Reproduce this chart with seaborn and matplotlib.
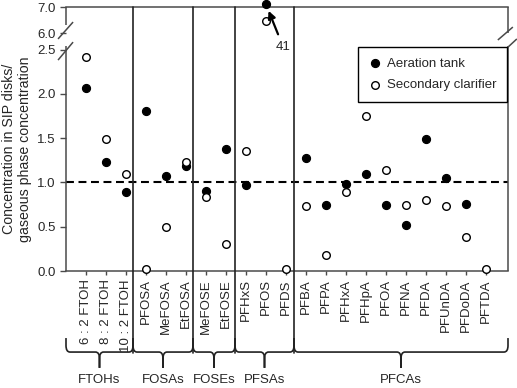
import numpy as np
import pandas as pd
import matplotlib
matplotlib.use("Agg")
import matplotlib.pyplot as plt
import matplotlib.transforms as mtransforms
from matplotlib.path import Path
from matplotlib.patches import PathPatch
import seaborn as sns

# ---------------- data ----------------
categories = ["6 : 2 FTOH", "8 : 2 FTOH", "10 : 2 FTOH",
              "PFOSA", "MeFOSA", "EtFOSA",
              "MeFOSE", "EtFOSE",
              "PFHxS", "PFOS", "PFDS",
              "PFBA", "PFPA", "PFHxA", "PFHpA", "PFOA", "PFNA", "PFDA",
              "PFUnDA", "PFDoDA", "PFTDA"]
aeration = [2.07, 1.23, 0.895,
            1.81, 1.075, 1.19,
            0.90, 1.38,
            0.975, 41.0, np.nan,
            1.28, 0.745, 0.985, 1.10, 0.745, 0.52, 1.49,
            1.045, 0.76, np.nan]
clarifier = [2.42, 1.49, 1.09,
             0.02, 0.50, 1.23,
             0.84, 0.30,
             1.35, 6.47, 0.02,
             0.73, 0.18, 0.895, 1.75, 1.14, 0.75, 0.80,
             0.73, 0.385, 0.02]
groups = ["FTOHs", "FOSAs", "FOSEs", "PFSAs", "PFCAs"]
ytick_values = [0.0, 0.5, 1.0, 1.5, 2.0, 2.5, 6.0, 7.0]
ytick_labels = ["0.0", "0.5", "1.0", "1.5", "2.0", "2.5", "6.0", "7.0"]
annot_value = "41"

# ---------------- layout ----------------
sns.set_style("ticks")
plt.rcParams["font.family"] = ["Liberation Sans", "DejaVu Sans"]
FS = 9.5
plt.rcParams["font.size"] = FS

fig = plt.figure(figsize=(5.17, 3.88), dpi=100)
ax = fig.add_axes([66/517, 1-271/388, 442/517, 264/388])

# broken y scale
K1 = 0.186/3.5
K2 = 0.294
def fwd(y):
    y = np.asarray(y, dtype=float)
    return np.where(y <= 2.5, y, np.where(y <= 6, 2.5 + (y-2.5)*K1, 2.686 + (y-6)*K2))
def inv(u):
    u = np.asarray(u, dtype=float)
    return np.where(u <= 2.5, u, np.where(u <= 2.686, 2.5 + (u-2.5)/K1, 6 + (u-2.686)/K2))
ax.set_yscale("function", functions=(fwd, inv))

xpos = np.arange(len(categories))
top_cap = 7.1
aer_plot = np.minimum(np.array(aeration, dtype=float), top_cap)
df = pd.DataFrame({"x": xpos, "aer": aer_plot, "cla": clarifier})

sns.scatterplot(data=df, x="x", y="aer", ax=ax, color="black", edgecolor="black",
                marker="o", s=34, linewidth=0.8, label="Aeration tank",
                clip_on=False, zorder=4)
sns.scatterplot(data=df, x="x", y="cla", ax=ax, color="white", edgecolor="black",
                marker="o", s=30, linewidth=1.0, label="Secondary clarifier",
                clip_on=False, zorder=4)

ax.axhline(1.0, color="black", lw=1.5, ls=(0, (3.8, 2.2)), zorder=2)

ax.set_xlim(-1, 21.1)
ax.set_ylim(0, 7.0)
ax.set_yticks(ytick_values)
ax.set_yticklabels(ytick_labels)
ax.set_xticks(xpos)
ax.set_xticklabels(categories, rotation=90, va="top", ha="center")
ax.set_xlabel("")
ax.set_ylabel("Concentration in SIP disks/\ngaseous phase concentration",
              fontsize=10.2, linespacing=1.15)
ax.yaxis.set_label_coords(-0.077, 0.462)

spine_c = "#4a4a4a"
for s in ["top", "bottom"]:
    ax.spines[s].set_color(spine_c)
    ax.spines[s].set_linewidth(1.1)
ax.spines["left"].set_visible(False)
ax.spines["right"].set_visible(False)
ax.tick_params(axis="y", direction="out", length=4.5, width=1.0, color=spine_c,
               pad=3, labelsize=FS)
ax.tick_params(axis="x", direction="out", length=3, width=1.0, color=spine_c,
               pad=3, labelsize=FS)

# broken spines (axes coords)
lk = dict(color=spine_c, lw=1.1, clip_on=False, transform=ax.transAxes,
          solid_capstyle="butt")
ax.plot([0, 0], [0, 0.852], **lk)
ax.plot([0, 0], [0.932, 1.0], **lk)
ax.plot([-0.018, 0.016], [0.879, 0.943], **lk)
ax.plot([-0.018, 0.016], [0.799, 0.867], **lk)
ax.plot([1, 1], [0, 0.852], **lk)
ax.plot([1, 1], [0.902, 1.0], **lk)
ax.plot([0.977, 1.011], [0.875, 0.924], **lk)
ax.plot([0.998, 1.02], [0.845, 0.879], **lk)

# group separators & braces
blend = mtransforms.blended_transform_factory(ax.transData, ax.transAxes)
sep_x = [2.35, 5.35, 7.45, 10.4]
edges = [-1.0] + sep_x + [21.1]
for sx in sep_x:
    ax.plot([sx, sx], [1.0, -0.31], color="#222222", lw=1.2, clip_on=False,
            transform=blend, zorder=3)

y_end, y_h, y_tip, y_lab = -0.254, -0.307, -0.367, -0.414
dx, dy = 0.2, 0.025
for g, x0, x1 in zip(groups, edges[:-1], edges[1:]):
    xc = (x0 + x1) / 2
    verts = [(x0, y_end), (x0, y_h + dy), (x0, y_h), (x0 + dx, y_h),
             (xc - dx, y_h), (xc, y_h), (xc, y_h - dy), (xc, y_tip),
             (xc, y_h - dy), (xc, y_h), (xc + dx, y_h),
             (x1 - dx, y_h), (x1, y_h), (x1, y_h + dy), (x1, y_end)]
    codes = [Path.MOVETO, Path.LINETO, Path.CURVE3, Path.CURVE3,
             Path.LINETO, Path.CURVE3, Path.CURVE3, Path.LINETO,
             Path.LINETO, Path.CURVE3, Path.CURVE3,
             Path.LINETO, Path.CURVE3, Path.CURVE3, Path.LINETO]
    ax.add_patch(PathPatch(Path(verts, codes), transform=blend, fill=False,
                           lw=1.2, edgecolor="#222222", clip_on=False))
    ax.text(xc, y_lab, g, transform=blend, ha="center", va="center", fontsize=FS)

# annotation for off-scale PFOS
ax.annotate(annot_value, xy=(categories.index("PFOS"), top_cap),
            xytext=(12.5, -31), textcoords="offset points",
            ha="center", va="center", fontsize=FS,
            arrowprops=dict(arrowstyle="-|>", color="black", lw=1.6,
                            mutation_scale=11, shrinkA=3, shrinkB=5),
            annotation_clip=False, zorder=5)

leg = ax.legend(loc="upper right", bbox_to_anchor=(0.998, 0.848), borderaxespad=0,
                frameon=True, fancybox=False, framealpha=1, edgecolor="black",
                handlelength=1.0, handletextpad=0.4, borderpad=0.8,
                labelspacing=0.7, fontsize=FS)
leg.get_frame().set_linewidth(1.0)

fig.savefig("out.png", dpi=100)
